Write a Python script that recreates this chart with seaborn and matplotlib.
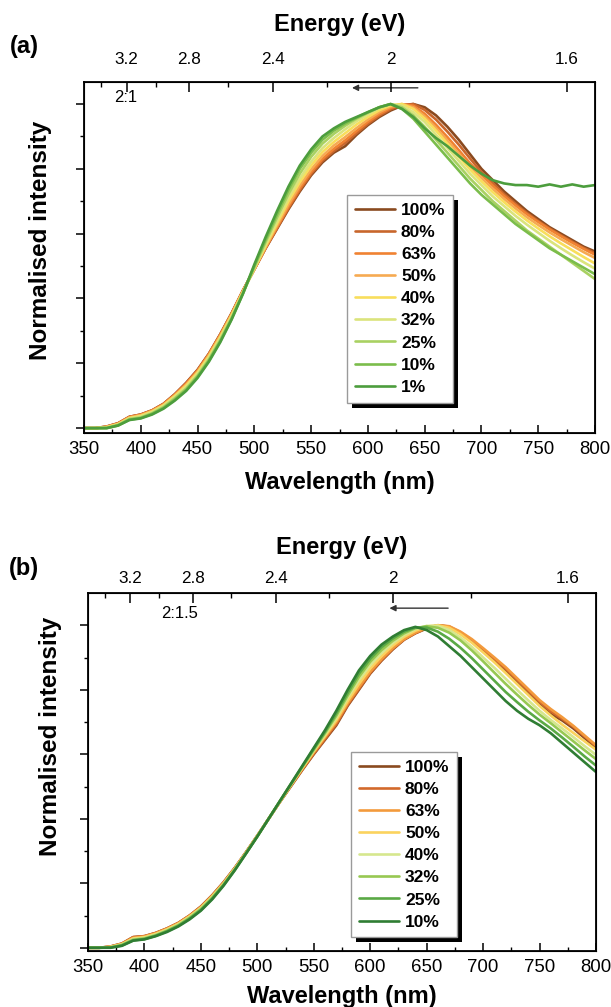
import matplotlib
matplotlib.use("Agg")
import numpy as np
import pandas as pd
import seaborn as sns
import matplotlib.pyplot as plt
from matplotlib import font_manager as fm
from matplotlib.patches import Rectangle
from matplotlib.transforms import IdentityTransform

# ---------------- data ----------------
wavelength = list(range(350, 801, 10))

energy_ticks = [3.2, 2.8, 2.4, 2.0, 1.6]
energy_labels = ["3.2", "2.8", "2.4", "2", "1.6"]
energy_minor = [3.4, 3.0, 2.6, 2.2, 1.8]
wl_ticks = [350, 400, 450, 500, 550, 600, 650, 700, 750, 800]

labels_a = ["100%", "80%", "63%", "50%", "40%", "32%", "25%", "10%", "1%"]
colors_a = ["#8a4a1f", "#c8662c", "#f08232", "#f6aa52", "#f8de5c", "#dbe47c",
            "#a9d162", "#7bbd4b", "#4c9d3d"]

a_100 = [0.000,0.000,0.005,0.015,0.035,0.042,0.055,0.075,0.105,0.140,0.180,0.230,0.290,0.355,0.425,0.490,0.555,0.615,0.675,0.730,0.780,0.820,0.850,0.870,0.905,0.935,0.960,0.980,0.995,1.000,0.990,0.965,0.930,0.890,0.845,0.800,0.765,0.730,0.700,0.670,0.645,0.620,0.600,0.580,0.560,0.545]
a_80  = [0.000,0.000,0.005,0.015,0.035,0.042,0.055,0.075,0.104,0.139,0.179,0.229,0.289,0.354,0.425,0.490,0.556,0.617,0.678,0.734,0.784,0.825,0.855,0.880,0.910,0.939,0.964,0.984,0.997,1.000,0.982,0.952,0.915,0.875,0.832,0.790,0.756,0.722,0.692,0.664,0.639,0.616,0.595,0.575,0.556,0.540]
a_63  = [0.000,0.000,0.004,0.014,0.034,0.041,0.054,0.074,0.103,0.137,0.177,0.228,0.288,0.353,0.424,0.490,0.557,0.620,0.683,0.740,0.790,0.831,0.862,0.888,0.917,0.945,0.969,0.988,0.999,0.995,0.970,0.936,0.898,0.858,0.817,0.782,0.748,0.716,0.687,0.660,0.636,0.613,0.592,0.572,0.553,0.535]
a_50  = [0.000,0.000,0.004,0.013,0.033,0.040,0.053,0.072,0.101,0.134,0.174,0.225,0.285,0.351,0.423,0.491,0.559,0.625,0.690,0.748,0.798,0.840,0.872,0.898,0.926,0.952,0.975,0.992,1.000,0.990,0.962,0.926,0.887,0.847,0.807,0.772,0.738,0.707,0.678,0.651,0.627,0.604,0.583,0.563,0.543,0.525]
a_40  = [0.000,0.000,0.003,0.012,0.031,0.038,0.051,0.070,0.099,0.131,0.171,0.221,0.281,0.348,0.421,0.492,0.563,0.632,0.700,0.759,0.810,0.852,0.883,0.910,0.937,0.960,0.981,0.996,1.000,0.985,0.955,0.918,0.878,0.838,0.798,0.762,0.728,0.697,0.668,0.641,0.616,0.592,0.570,0.549,0.528,0.508]
a_32  = [0.000,0.000,0.002,0.011,0.030,0.036,0.049,0.068,0.096,0.127,0.167,0.217,0.277,0.344,0.419,0.494,0.568,0.640,0.710,0.770,0.822,0.864,0.895,0.922,0.947,0.968,0.987,0.999,0.995,0.975,0.945,0.905,0.865,0.825,0.785,0.750,0.715,0.685,0.655,0.628,0.603,0.578,0.555,0.533,0.512,0.492]
a_25  = [0.000,0.000,0.001,0.010,0.028,0.033,0.046,0.065,0.092,0.122,0.162,0.212,0.272,0.340,0.417,0.497,0.575,0.650,0.722,0.785,0.837,0.878,0.908,0.933,0.955,0.973,0.990,1.000,0.990,0.965,0.930,0.890,0.850,0.810,0.770,0.735,0.700,0.670,0.640,0.610,0.585,0.560,0.535,0.510,0.485,0.460]
a_10  = [0.000,0.000,0.000,0.008,0.026,0.031,0.044,0.062,0.088,0.118,0.158,0.208,0.268,0.337,0.415,0.500,0.582,0.660,0.735,0.800,0.850,0.890,0.918,0.940,0.958,0.975,0.990,1.000,0.985,0.955,0.915,0.875,0.835,0.795,0.755,0.720,0.690,0.660,0.630,0.605,0.580,0.555,0.535,0.515,0.495,0.475]
a_1   = [0.000,0.000,0.000,0.008,0.025,0.030,0.042,0.060,0.085,0.115,0.155,0.205,0.265,0.335,0.415,0.505,0.590,0.670,0.745,0.810,0.860,0.900,0.925,0.945,0.960,0.975,0.990,1.000,0.985,0.960,0.925,0.895,0.870,0.840,0.810,0.785,0.765,0.755,0.750,0.750,0.745,0.752,0.745,0.752,0.745,0.750]

labels_b = ["100%", "80%", "63%", "50%", "40%", "32%", "25%", "10%"]
colors_b = ["#8a4a1f", "#d2692b", "#f39a3c", "#fbd35e", "#d6e78e", "#97c852",
            "#5aa945", "#2f7d33"]

b_100 = [0.000,0.000,0.004,0.013,0.033,0.036,0.046,0.060,0.077,0.100,0.128,0.163,0.203,0.248,0.297,0.348,0.400,0.452,0.502,0.552,0.600,0.645,0.690,0.750,0.800,0.850,0.890,0.925,0.955,0.975,0.990,1.000,0.995,0.975,0.950,0.920,0.890,0.860,0.825,0.790,0.755,0.725,0.705,0.680,0.650,0.620]
b_80  = [0.000,0.000,0.004,0.013,0.033,0.036,0.046,0.060,0.077,0.100,0.127,0.162,0.202,0.247,0.296,0.347,0.400,0.452,0.503,0.553,0.602,0.648,0.694,0.753,0.803,0.852,0.892,0.927,0.956,0.976,0.991,1.000,0.996,0.978,0.954,0.925,0.895,0.865,0.831,0.797,0.763,0.733,0.710,0.685,0.655,0.625]
b_63  = [0.000,0.000,0.003,0.012,0.031,0.035,0.045,0.059,0.076,0.099,0.126,0.161,0.201,0.246,0.296,0.347,0.400,0.453,0.505,0.556,0.606,0.653,0.700,0.758,0.808,0.856,0.895,0.929,0.957,0.977,0.992,1.000,0.997,0.980,0.957,0.929,0.900,0.870,0.836,0.802,0.768,0.740,0.715,0.688,0.658,0.628]
b_50  = [0.000,0.000,0.003,0.011,0.029,0.033,0.043,0.057,0.074,0.097,0.124,0.159,0.199,0.245,0.295,0.347,0.400,0.453,0.506,0.558,0.609,0.657,0.706,0.765,0.818,0.866,0.904,0.937,0.964,0.983,0.996,1.000,0.992,0.972,0.946,0.916,0.885,0.852,0.818,0.784,0.750,0.720,0.692,0.666,0.640,0.614]
b_40  = [0.000,0.000,0.002,0.010,0.027,0.031,0.041,0.055,0.072,0.095,0.122,0.157,0.197,0.244,0.294,0.346,0.400,0.454,0.507,0.560,0.612,0.662,0.713,0.775,0.830,0.877,0.914,0.945,0.970,0.988,0.998,0.998,0.985,0.962,0.933,0.900,0.868,0.834,0.800,0.767,0.735,0.706,0.680,0.653,0.625,0.598]
b_32  = [0.000,0.000,0.001,0.009,0.025,0.029,0.039,0.053,0.070,0.093,0.120,0.155,0.196,0.243,0.294,0.346,0.400,0.454,0.508,0.562,0.614,0.666,0.720,0.782,0.840,0.887,0.923,0.952,0.975,0.991,0.997,0.992,0.977,0.953,0.922,0.888,0.853,0.818,0.785,0.753,0.723,0.696,0.668,0.640,0.612,0.585]
b_25  = [0.000,0.000,0.001,0.007,0.023,0.027,0.037,0.051,0.068,0.090,0.117,0.152,0.194,0.241,0.293,0.345,0.400,0.455,0.509,0.563,0.617,0.670,0.727,0.790,0.850,0.896,0.932,0.959,0.980,0.993,0.993,0.980,0.958,0.930,0.898,0.863,0.828,0.793,0.762,0.732,0.705,0.680,0.652,0.623,0.593,0.565]
b_10  = [0.000,0.000,0.000,0.006,0.022,0.026,0.036,0.049,0.066,0.088,0.115,0.150,0.192,0.240,0.292,0.345,0.400,0.455,0.510,0.565,0.620,0.675,0.735,0.800,0.860,0.905,0.940,0.965,0.985,0.995,0.985,0.965,0.935,0.905,0.870,0.835,0.800,0.765,0.735,0.710,0.690,0.665,0.635,0.605,0.575,0.545]

series_a = [a_100, a_80, a_63, a_50, a_40, a_32, a_25, a_10, a_1]
series_b = [b_100, b_80, b_63, b_50, b_40, b_32, b_25, b_10]

# ---------------- style ----------------
sns.set_style("ticks")
names = {f.name for f in fm.fontManager.ttflist}
TICKFONT = "Liberation Sans Narrow" if "Liberation Sans Narrow" in names else "Liberation Sans"
narrow = TICKFONT == "Liberation Sans Narrow"
plt.rcParams["font.family"] = ["Liberation Sans", "DejaVu Sans"]
plt.rcParams.update({
    "text.color": "black", "axes.labelcolor": "black", "axes.edgecolor": "black",
    "xtick.color": "black", "ytick.color": "black",
})

W, H = 611, 1007
fig = plt.figure(figsize=(W / 100, H / 100), dpi=100)


def px_axes(l, t, r, b):
    return fig.add_axes([l / W, 1 - b / H, (r - l) / W, (b - t) / H])


def make_panel(ax, series, labels, colors, ylim, tag, ratio, arrow, ratio_pos,
               leg_anchor, ylab_pos, tag_y, top_pad, top_labelpad, bot_pad,
               bot_labelpad):
    rows = []
    for lab, vals in zip(labels, series):
        for w, v in zip(wavelength, vals):
            rows.append((w, v, lab))
    df = pd.DataFrame(rows, columns=["wl", "I", "conc"])
    sns.lineplot(data=df, x="wl", y="I", hue="conc", hue_order=labels,
                 palette=dict(zip(labels, colors)), ax=ax, legend=False,
                 linewidth=1.9, estimator=None, sort=False)
    ax.set_xlim(350, 800)
    ax.set_ylim(*ylim)
    ax.set_xticks(wl_ticks)
    ax.set_xticks([375, 425, 475, 525, 575, 625, 675, 725, 775], minor=True)
    ax.set_yticks([0, 0.2, 0.4, 0.6, 0.8, 1.0])
    ax.set_yticks([0.1, 0.3, 0.5, 0.7, 0.9], minor=True)
    ax.set_yticklabels([])
    for s in ax.spines.values():
        s.set_visible(True)
        s.set_linewidth(1.3)
        s.set_color("black")
    tsize = 16 if narrow else 13.4
    ax.tick_params(axis="x", which="major", direction="in", length=6, width=1.1,
                   labelsize=tsize, pad=bot_pad, labelfontfamily=TICKFONT)
    ax.tick_params(axis="x", which="minor", direction="in", length=3, width=1.0)
    ax.tick_params(axis="y", which="major", direction="out", length=6, width=1.1)
    ax.tick_params(axis="y", which="minor", direction="out", length=3, width=1.0)
    ax.set_xlabel("Wavelength (nm)", fontsize=17, fontweight="bold",
                  labelpad=bot_labelpad)
    ax.set_ylabel("Normalised intensity", fontsize=17.5, fontweight="bold")
    ax.yaxis.set_label_coords(*ylab_pos)

    # top energy axis
    ax2 = ax.twiny()
    ax2.set_xlim(ax.get_xlim())
    ax2.set_xticks([1240.0 / e for e in energy_ticks])
    ax2.set_xticklabels(energy_labels)
    ax2.set_xticks([1240.0 / e for e in energy_minor], minor=True)
    tsz2 = 14 if narrow else 12.3
    ax2.tick_params(axis="x", which="major", direction="in", length=7, width=1.1,
                    labelsize=tsz2, pad=top_pad, labelfontfamily=TICKFONT)
    ax2.tick_params(axis="x", which="minor", direction="in", length=3.5, width=1.0)
    ax2.set_xlabel("Energy (eV)", fontsize=17, fontweight="bold",
                   labelpad=top_labelpad)

    # annotations
    ax.annotate("", xy=(arrow[1], arrow[2]), xytext=(arrow[0], arrow[2]),
                arrowprops=dict(arrowstyle="-|>", color="#333333", lw=1.0,
                                mutation_scale=9, shrinkA=0, shrinkB=0))
    ax.text(ratio_pos[0], ratio_pos[1], ratio, fontsize=13.5 if narrow else 12,
            family=TICKFONT, ha="center", va="center")
    fig.text(24 / W, 1 - tag_y / H, tag, fontsize=17, fontweight="bold",
             ha="center", va="center")

    handles = ax.lines[:len(labels)]
    leg = ax.legend(handles, labels, loc="upper left", bbox_to_anchor=leg_anchor,
                    frameon=True, fancybox=False, framealpha=1, edgecolor="#9a9a9a",
                    prop=dict(family="Liberation Sans", weight="bold", size=12.5),
                    handlelength=2.3, handletextpad=0.35, labelspacing=0.4,
                    borderpad=0.45, borderaxespad=0)
    leg.get_frame().set_linewidth(1.0)
    leg.set_zorder(6)
    return leg


ax_a = px_axes(84, 82, 595, 433)
leg_a = make_panel(ax_a, series_a, labels_a, colors_a, (-0.015, 1.068), "(a)", "2:1",
                   (644, 586, 1.05), (387, 1.02), (0.515, 0.678), (-0.063, 0.55),
                   47, 11, 15, 6, 9)

ax_b = px_axes(88, 593, 596, 951)
leg_b = make_panel(ax_b, series_b, labels_b, colors_b, (-0.01, 1.10), "(b)", "2:1.5",
                   (669, 617, 1.053), (431, 1.037), (0.518, 0.556), (-0.051, 0.6),
                   569, 5, 12, 6, 6)

# black drop shadows behind legends
fig.canvas.draw()
r = fig.canvas.get_renderer()
for ax, leg in ((ax_a, leg_a), (ax_b, leg_b)):
    bb = leg.get_window_extent(r)
    sh = Rectangle((bb.x0 + 5, bb.y0 - 5), bb.width, bb.height,
                   transform=IdentityTransform(), facecolor="black",
                   edgecolor="none", zorder=5.5, clip_on=False)
    ax.add_artist(sh)

fig.savefig("out.png", dpi=100)
